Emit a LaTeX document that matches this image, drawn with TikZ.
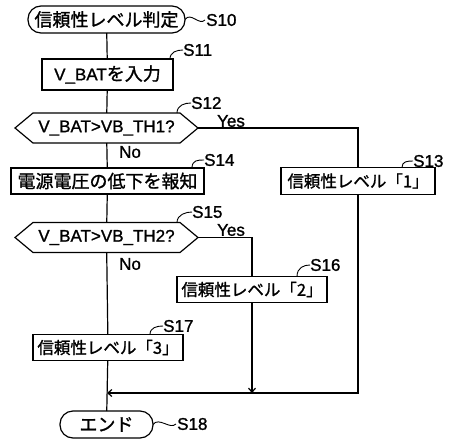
\documentclass[tikz,border=0pt]{standalone}
\usepackage{fontspec}
\setmainfont{Liberation Sans}[FakeBold=1.2]
\newfontfamily\jpf{Noto Sans CJK JP}[FakeBold=1.2]
\newcommand{\jp}{\jpf\fontsize{18}{20}\selectfont}
\newcommand{\jps}{\jpf\fontsize{16.5}{20}\selectfont}
\usetikzlibrary{arrows.meta}
\newcommand{\fs}{\fontsize{17}{20}\selectfont}
\begin{document}
\begin{tikzpicture}[x=1pt,y=-1pt,
  flow/.style={line width=1.2pt},
  box/.style={draw, line width=1.2pt, inner sep=0pt, outer sep=0pt, minimum height=26pt, font=\fs},
  term/.style={box, rounded corners=13pt, minimum height=27pt},
  hexn/.style={inner sep=0pt, outer sep=0pt, minimum height=30pt, minimum width=183pt, font=\fs},
  lbl/.style={font=\fs, inner sep=0pt, anchor=west},
  squig/.style={line width=0.9pt},
  arr/.style={flow, -{Straight Barb[length=4pt,width=7pt]}}
]
\useasboundingbox (0,0) rectangle (454,441);
\fill[white] (0,0) rectangle (454,441);

% nodes
\node[term, minimum width=157pt] (s10) at (106.5,19.5) {\jp 信頼性レベル判定};
\node[box, minimum width=131pt, minimum height=31pt] (s11) at (107.5,74.5) {V\_BAT{\jp を入力}};
\node[hexn] (s12) at (106.5,128) {V\_BAT>VB\_TH1?};
\node[box, minimum width=154pt, minimum height=27pt] (s13) at (358,181) {\jps 信頼性レベル「1」};
\node[box, minimum width=193pt] (s14) at (107.5,181) {\jp 電源電圧の低下を報知};
\node[hexn] (s15) at (106.5,237.5) {V\_BAT>VB\_TH2?};
\node[box, minimum width=150pt] (s16) at (252,289.5) {\jps 信頼性レベル「2」};
\node[box, minimum width=150pt] (s17) at (108,347.5) {\jps 信頼性レベル「3」};
\node[term, minimum width=93pt] (s18) at (106.5,424.5) {\jp エンド};

% hexagon outlines
\foreach \h in {s12,s15}{
  \draw[flow] (\h.west) -- ([xshift=18pt]\h.north west) -- ([xshift=-18pt]\h.north east)
    -- (\h.east) -- ([xshift=-18pt]\h.south east) -- ([xshift=18pt]\h.south west) -- cycle;
}

% junctions
\coordinate (j1) at (107,393);
\coordinate (j2) at (252,393);

% main flow
\draw[flow] (s10) -- (s11);
\draw[flow] (s11) -- (s12);
\draw[flow] (s12) -- (s14);
\draw[flow] (s14) -- (s15);
\draw[flow] (s15) -- (s17);
\draw[flow] (s17) -- (s18);
\draw[flow] (s12.east) -| (s13.north);
\draw[flow] (s15.east) -| (s16.north);
\draw[arr] (s13.south) |- (j1);
\draw[arr] (s16.south) -- (j2);

% Yes / No labels
\node[font=\fs, inner sep=0pt] (y1) at (231,121) {Yes};
\node[font=\fs, inner sep=0pt] (n1) at (130,152) {No};
\node[font=\fs, inner sep=0pt] (y2) at (231,230) {Yes};
\node[font=\fs, inner sep=0pt] (n2) at (130,264) {No};

% step labels
\node[lbl] (l10) at (206,20) {S10};
\node[lbl] (l11) at (183,50) {S11};
\node[lbl] (l12) at (191,103) {S12};
\node[lbl] (l13) at (413,161) {S13};
\node[lbl] (l14) at (204,160) {S14};
\node[lbl] (l15) at (192,212) {S15};
\node[lbl] (l16) at (310,265) {S16};
\node[lbl] (l17) at (163,326) {S17};
\node[lbl] (l18) at (177,424) {S18};

\draw[squig] (s10.east) .. controls +(6,-8) and +(-6,6) .. ([xshift=-1pt]l10.west);
\draw[squig] (s18.east) .. controls +(6,-8) and +(-6,6) .. ([xshift=-1pt]l18.west);
\draw[squig] ([xshift=-3pt]s11.north east) .. controls +(0,-7) and +(-6,0) .. (l11.west);
\draw[squig] ([xshift=-21pt]s12.north east) .. controls +(0,-8) and +(-6,0) .. (l12.west);
\draw[squig] ([xshift=-33pt]s13.north east) .. controls +(0,-6) and +(-6,0) .. (l13.west);
\draw[squig] ([xshift=-12pt]s14.north east) .. controls +(0,-8) and +(-6,0) .. (l14.west);
\draw[squig] ([xshift=-21pt]s15.north east) .. controls +(0,-8) and +(-6,0) .. (l15.west);
\draw[squig] ([xshift=-30pt]s16.north east) .. controls +(0,-9) and +(-6,0) .. (l16.west);
\draw[squig] ([xshift=-33pt]s17.north east) .. controls +(0,-7) and +(-6,0) .. (l17.west);
\end{tikzpicture}
\end{document}
